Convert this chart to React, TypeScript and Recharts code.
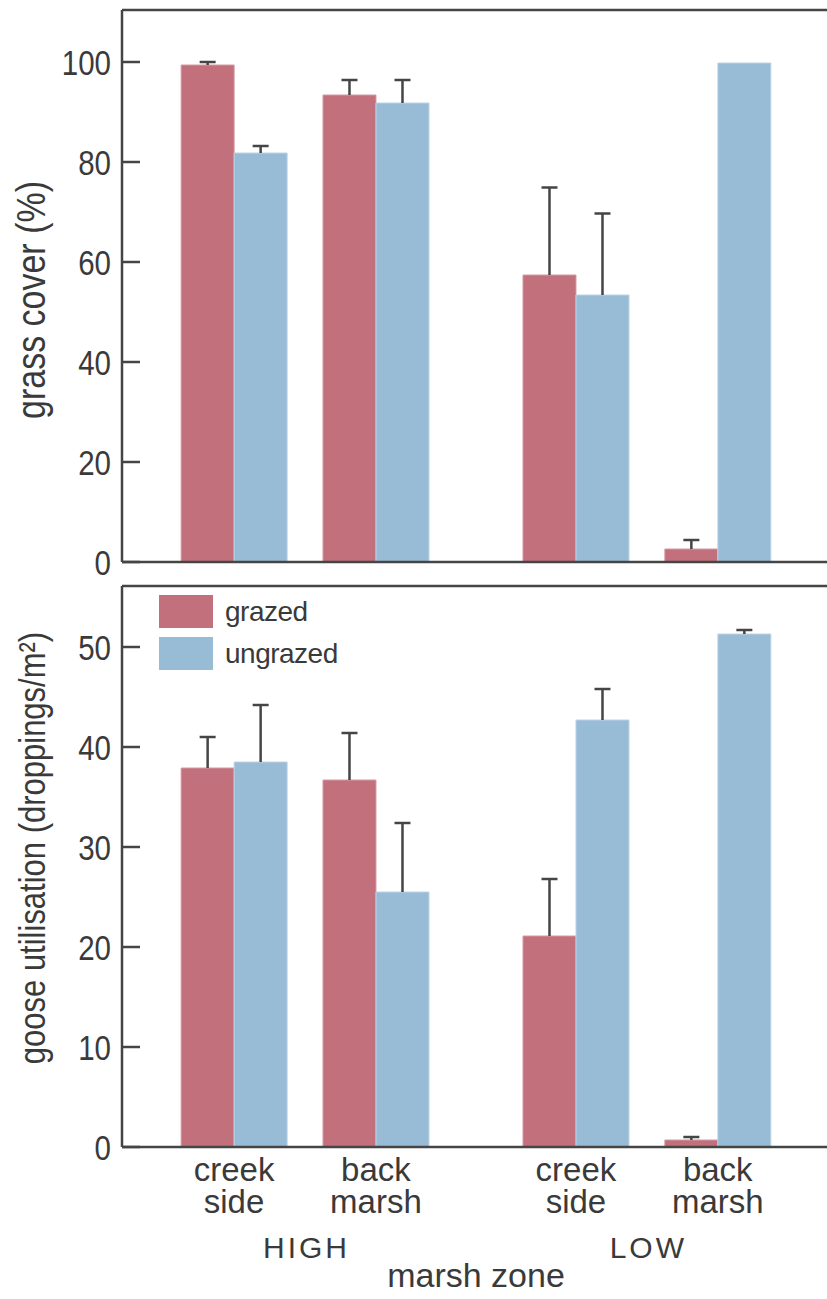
import React from 'react';
import { BarChart, Bar, XAxis, YAxis, ErrorBar, Legend } from 'recharts';

// marsh sites, grouped by zone
const sites = ['creek side', 'back marsh', 'creek side', 'back marsh'];
const zones = ['HIGH', 'HIGH', 'LOW', 'LOW'];

// grass cover (%)
const coverGrazed = [99.4, 93.4, 57.4, 2.6];
const coverGrazedErr = [0.6, 3.0, 17.5, 1.8];
const coverUngrazed = [81.8, 91.8, 53.4, 99.8];
const coverUngrazedErr = [1.4, 4.6, 16.3, 0];

// goose utilisation (droppings/m2)
const gooseGrazed = [37.9, 36.7, 21.1, 0.7];
const gooseGrazedErr = [3.1, 4.7, 5.7, 0.3];
const gooseUngrazed = [38.5, 25.5, 42.7, 51.3];
const gooseUngrazedErr = [5.7, 6.9, 3.1, 0.4];

const coverTicks = [0, 20, 40, 60, 80, 100];
const gooseTicks = [0, 10, 20, 30, 40, 50];

const GRAZED = '#C1707C';
const UNGRAZED = '#98BBD6';
const INK = '#3a3a3a';
const LINE = '#454545';
const FONT = "'Liberation Sans', Arial, sans-serif";

// extra room between the HIGH and LOW groups, in category units
const ZONE_GAP = 0.41;
const zoneNames = Array.from(new Set(zones));
const slots = sites.map((_, i) => i + zoneNames.indexOf(zones[i]) * ZONE_GAP);
const zoneCenters = zoneNames.map(z => {
  const s = slots.filter((_, i) => zones[i] === z);
  return s.reduce((a, b) => a + b, 0) / s.length;
});
const X_DOMAIN = [-0.79, 4.18];

const build = (g: number[], ge: number[], u: number[], ue: number[]) =>
  sites.map((site, i) => ({
    slot: slots[i],
    site,
    zone: zones[i],
    grazed: g[i],
    grazedErr: ge[i] ? [0, ge[i]] : null,
    ungrazed: u[i],
    ungrazedErr: ue[i] ? [0, ue[i]] : null,
  }));

const coverData = build(coverGrazed, coverGrazedErr, coverUngrazed, coverUngrazedErr);
const gooseData = build(gooseGrazed, gooseGrazedErr, gooseUngrazed, gooseUngrazedErr);

const axisLine = { stroke: LINE, strokeWidth: 2.5 };

const YTitle = ({ text, cx, cy, size }: any) => (
  <text
    x={0}
    y={0}
    transform={`translate(${cx}, ${cy}) rotate(-90) scale(1, 1.18)`}
    textAnchor="middle"
    fill={INK}
    fontSize={size}
    fontFamily={FONT}
  >
    {text}
  </text>
);

// inward tick mark + slightly condensed number
const YTick = ({ x, y, payload }: any) => (
  <g>
    <line x1={x + 11} x2={x + 29} y1={y} y2={y} stroke={LINE} strokeWidth={2.5} />
    <text
      x={0}
      y={0}
      dy="0.36em"
      transform={`translate(${x}, ${y}) scale(0.82, 1)`}
      textAnchor="end"
      fill={INK}
      fontSize={36}
      fontFamily={FONT}
    >
      {payload.value}
    </text>
  </g>
);

const SiteTick = ({ x, y, payload }: any) => {
  const i = slots.findIndex(s => Math.abs(s - payload.value) < 1e-6);
  if (i < 0) return null;
  const [l1, l2] = sites[i].split(' ');
  return (
    <text x={x} y={y} textAnchor="middle" fill={INK} fontSize={33} fontFamily={FONT}>
      <tspan x={x} dy={34}>{l1}</tspan>
      <tspan x={x} dy={32}>{l2}</tspan>
    </text>
  );
};

const ZoneTick = ({ x, y, payload }: any) => {
  const i = zoneCenters.findIndex(s => Math.abs(s - payload.value) < 1e-6);
  if (i < 0) return null;
  return (
    <text x={x + 1.5} y={y + 36} textAnchor="middle" fill={INK} fontSize={30} letterSpacing={3} fontFamily={FONT}>
      {zoneNames[i]}
    </text>
  );
};

const ZoneTitle = ({ px, py }: any) => (
  <text x={px} y={py} textAnchor="middle" fill={INK} fontSize={34} fontFamily={FONT}>
    marsh zone
  </text>
);

const LegendBox = ({ payload }: any) => (
  <div>
    {(payload || []).map((p: any) => (
      <div key={p.value} style={{ display: 'flex', alignItems: 'center', height: 33, marginBottom: 9 }}>
        <span style={{ width: 54, height: 33, background: p.color, display: 'inline-block' }} />
        <span style={{ marginLeft: 12, fontSize: 28, color: INK, fontFamily: FONT, letterSpacing: -0.5 }}>{p.value}</span>
      </div>
    ))}
  </div>
);

const yAxisProps = {
  width: 122,
  tickSize: 0,
  tickMargin: 11,
  interval: 0 as const,
  tick: <YTick />,
  tickLine: false,
  axisLine,
};

const bars = () => [
  <Bar key="g" dataKey="grazed" name="grazed" fill={GRAZED} stroke="#D59AA3" strokeWidth={1} barSize={53} isAnimationActive={false}>
    <ErrorBar dataKey="grazedErr" width={8} stroke={LINE} strokeWidth={2.5} isAnimationActive={false} />
  </Bar>,
  <Bar key="u" dataKey="ungrazed" name="ungrazed" fill={UNGRAZED} stroke="#BCD4E7" strokeWidth={1} barSize={53} isAnimationActive={false}>
    <ErrorBar dataKey="ungrazedErr" width={8} stroke={LINE} strokeWidth={2.5} isAnimationActive={false} />
  </Bar>,
];

export default function App() {
  return (
    <div style={{ position: 'absolute', left: 0, top: 0, width: 827, height: 1299, background: '#fff', overflow: 'hidden' }}>
      <style>{`.recharts-errorBar line:nth-of-type(3){stroke-opacity:0} .recharts-surface{overflow:visible}`}</style>
      <div style={{ position: 'absolute', left: 0, top: 575 }}>
        <BarChart width={827} height={724} data={gooseData} barGap={0} margin={{ top: 10, right: 0, bottom: 0, left: 0 }}>
          <XAxis
            type="number"
            dataKey="slot"
            domain={X_DOMAIN}
            allowDataOverflow
            ticks={slots}
            interval={0}
            tick={<SiteTick />}
            tickLine={false}
            tickSize={0}
            tickMargin={0}
            height={75}
            axisLine={axisLine}
          />
          <XAxis
            xAxisId="zone"
            type="number"
            dataKey="slot"
            domain={X_DOMAIN}
            allowDataOverflow
            ticks={zoneCenters}
            interval={0}
            tick={<ZoneTick />}
            tickLine={false}
            tickSize={0}
            tickMargin={0}
            height={77}
            axisLine={false}
            label={<ZoneTitle px={476} py={712} />}
          />
          <XAxis xAxisId="border" orientation="top" type="number" dataKey="slot" domain={X_DOMAIN} allowDataOverflow tick={false} tickLine={false} height={1} axisLine={axisLine} />
          <YAxis
            type="number"
            domain={[0, 56.1]}
            ticks={gooseTicks}
            {...yAxisProps}
            label={<YTitle text="goose utilisation (droppings/m²)" cx={45} cy={273} size={31} />}
          />
          <Legend
            layout="horizontal"
            verticalAlign="middle"
            align="center"
            content={<LegendBox />}
            wrapperStyle={{ left: 159, top: 20, width: 300 }}
          />
          {bars()}
        </BarChart>
      </div>
      <div style={{ position: 'absolute', left: 0, top: 0 }}>
        <BarChart width={827} height={575} data={coverData} barGap={0} margin={{ top: 9, right: 0, bottom: 12, left: 0 }}>
          <XAxis type="number" dataKey="slot" domain={X_DOMAIN} allowDataOverflow ticks={slots} tick={false} tickLine={false} height={1} axisLine={axisLine} />
          <XAxis xAxisId="border" orientation="top" type="number" dataKey="slot" domain={X_DOMAIN} allowDataOverflow tick={false} tickLine={false} height={1} axisLine={axisLine} />
          <YAxis
            type="number"
            domain={[0, 110.4]}
            ticks={coverTicks}
            {...yAxisProps}
            label={<YTitle text="grass cover (%)" cx={45} cy={300} size={34} />}
          />
          {bars()}
        </BarChart>
      </div>
    </div>
  );
}
